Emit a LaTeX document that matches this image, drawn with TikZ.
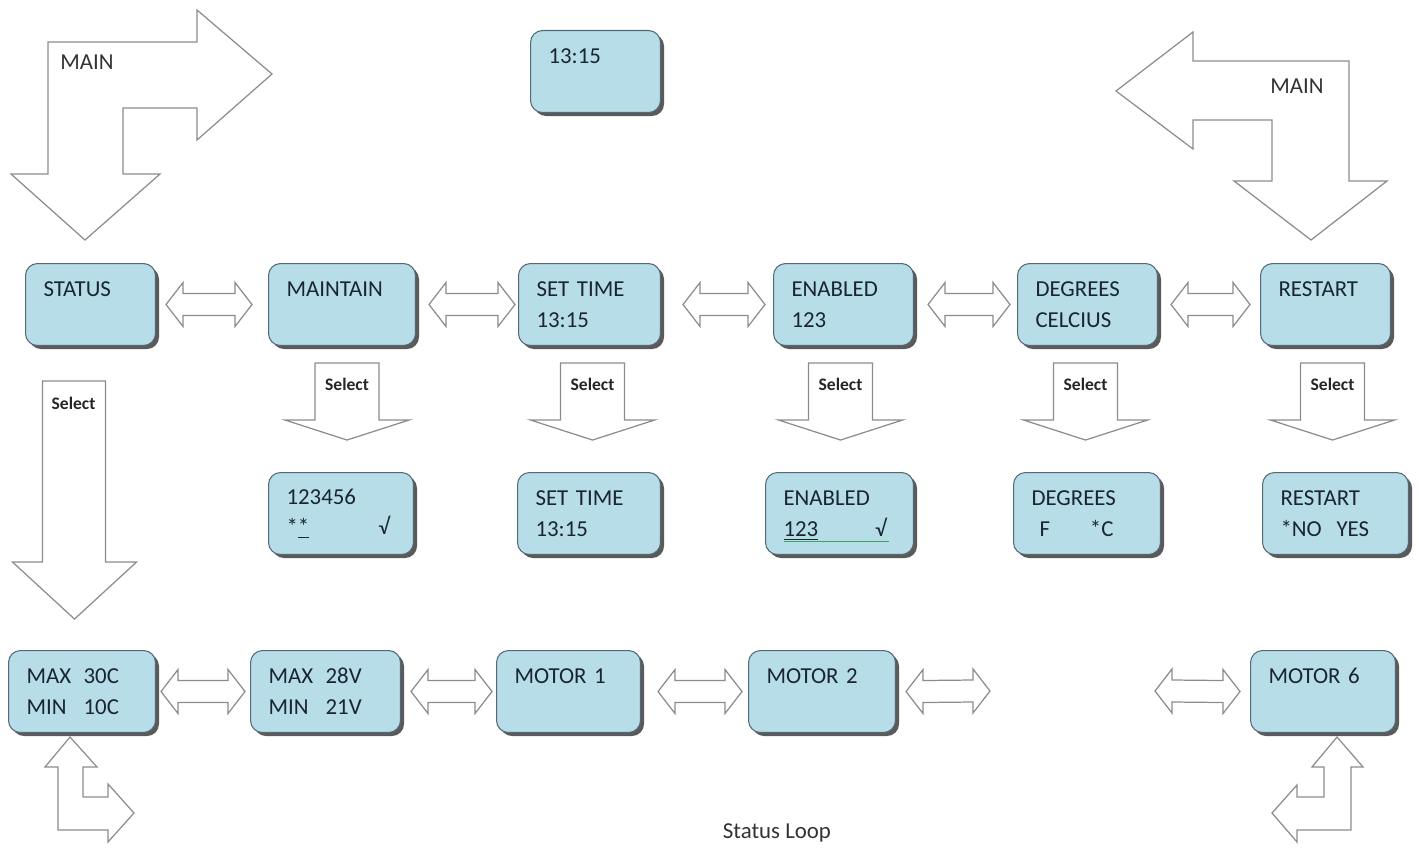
\documentclass[tikz,border=0pt]{standalone}
\usepackage{fontspec}
\setmainfont{Carlito}
\usetikzlibrary{calc,shadows}

\definecolor{lcdfill}{RGB}{183,221,232}
\definecolor{lcdedge}{RGB}{84,104,118}
\definecolor{lcdshade}{RGB}{90,90,90}
\definecolor{lcdtext}{RGB}{25,38,48}
\definecolor{arrowline}{RGB}{140,140,140}
\definecolor{cursorgreen}{RGB}{60,165,95}

\tikzset{
  lcd/.style={rectangle, rounded corners=0.24cm, fill=lcdfill, draw=lcdedge,
    line width=0.6pt, drop shadow={shadow xshift=0.07cm, shadow yshift=-0.07cm,
    fill=lcdshade, opacity=1}, text width=#1, align=left, minimum height=1.64cm,
    inner xsep=0.36cm, anchor=north west, text=lcdtext,
    font=\fontsize{13}{17.6}\selectfont},
  blockarrow/.style={draw=arrowline, fill=white, line width=0.7pt, line join=miter},
  seltext/.style={font=\fontsize{10}{11}\selectfont\bfseries, text=black!85, inner sep=0pt},
  plaintext/.style={font=\fontsize{13}{15}\selectfont, text=black!80, inner sep=0pt}
}

% double block arrow between two points on one row
\newcommand{\biarrow}[4]{%
  \draw[blockarrow] ($(#1)+(#2,0)$) -- ($(#1)+(#2+17,-22)$) -- ($(#1)+(#2+17,-11)$)
    -- ($(#3)+(-#4-17,-11)$) -- ($(#3)+(-#4-17,-22)$) -- ($(#3)+(-#4,0)$)
    -- ($(#3)+(-#4-17,22)$) -- ($(#3)+(-#4-17,11)$) -- ($(#1)+(#2+17,11)$)
    -- ($(#1)+(#2+17,22)$) -- cycle;}

% select arrow below a box
\newcommand{\selarrow}[3]{%
  \coordinate (#1) at ($(#2.south)+(#3,17)$);
  \draw[blockarrow] (#1) ++(-32,0) -- ++(64,0) -- ++(0,57) -- ++(30,0)
    -- ++(-62,20) -- ++(-62,-20) -- ++(30,0) -- cycle;
  \node[seltext] (#1-t) at ($(#1)+(0,21)$) {Select};}

\begin{document}
\begin{tikzpicture}[x=0.02cm, y=-0.02cm]
  \useasboundingbox (0,0) rectangle (1419,848);

  \node[lcd=1.88cm] (clock) at (530,30) {13:15\\~};

  \node[lcd=1.88cm] (status) at (25,263) {STATUS\\~};
  \node[lcd=2.22cm] (maintain) at (268,263) {MAINTAIN\\~};
  \node[lcd=2.12cm] (settime) at (518,263) {SET TIME\\13:15};
  \node[lcd=2.08cm] (enabled) at (773,263) {ENABLED\\123};
  \node[lcd=2.08cm] (degrees) at (1017,263) {DEGREES\\CELCIUS};
  \node[lcd=1.88cm] (restart) at (1260,263) {RESTART\\~};

  \node[lcd=2.18cm] (code) at (268,472) {123456\\{}*\underline{*}\hfill√\hspace*{0.25em}};
  \node[lcd=2.14cm] (settime-e) at (517,472) {SET TIME\\13:15};
  \node[lcd=2.24cm] (enabled-e) at (765,472)
    {ENABLED\\\leavevmode\rlap{\raisebox{-3.2pt}[0pt][0pt]{\textcolor{cursorgreen}{\rule{2.1cm}{0.6pt}}}}\raisebox{0pt}[\height][0pt]{\underline{123}}\hfill√\hspace*{0.4em}};
  \node[lcd=2.22cm] (degrees-e) at (1013,472) {DEGREES\\\hspace*{0.35em}F\hspace*{1.75em}*C};
  \node[lcd=2.20cm] (restart-e) at (1262,472) {RESTART\\{}*NO\hspace*{0.65em}YES};

  \node[lcd=2.22cm] (temp) at (8,650) {\makebox[2.5em][l]{MAX}30C\\\makebox[2.5em][l]{MIN}10C};
  \node[lcd=2.28cm] (volt) at (250,650) {\makebox[2.5em][l]{MAX}28V\\\makebox[2.5em][l]{MIN}21V};
  \node[lcd=2.16cm] (motor1) at (496,650) {MOTOR 1\\~};
  \node[lcd=2.22cm] (motor2) at (748,650) {MOTOR 2\\~};
  \node[lcd=2.18cm] (motor6) at (1250,650) {MOTOR 6\\~};

  \coordinate (gap-l) at (990,691);
  \coordinate (gap-r) at (1155,691);

  \biarrow{status.east}{10}{maintain.west}{16}
  \biarrow{maintain.east}{13}{settime.west}{3}
  \biarrow{settime.east}{22}{enabled.west}{8}
  \biarrow{enabled.east}{14}{degrees.west}{7}
  \biarrow{degrees.east}{13}{restart.west}{10}

  \biarrow{temp.east}{5}{volt.west}{5}
  \biarrow{volt.east}{10}{motor1.west}{4}
  \biarrow{motor1.east}{17}{motor2.west}{6}
  \biarrow{motor2.east}{10}{gap-l}{0}
  \biarrow{gap-r}{0}{motor6.west}{10}

  \selarrow{sel-maintain}{maintain}{5}
  \selarrow{sel-settime}{settime}{3}
  \selarrow{sel-enabled}{enabled}{-3}
  \selarrow{sel-degrees}{degrees}{-2}
  \selarrow{sel-restart}{restart}{7}

  \coordinate (sel-status) at ($(status.south)+(-16,35)$);
  \draw[blockarrow] (sel-status) ++(-32,0) -- ++(63,0) -- ++(0,181) -- ++(31,0)
    -- ++(-62,57) -- ++(-62,-57) -- ++(30,0) -- cycle;
  \node[seltext] (sel-status-t) at ($(sel-status)+(-1,22)$) {Select};

  \draw[blockarrow] (48,42) -- (197,42) -- (197,10) -- (272,74) -- (197,140) -- (197,108)
    -- (123,108) -- (123,174) -- (160,174) -- (85,240) -- (11,174) -- (48,174) -- cycle;
  \node[plaintext] (main-l) at (87,62) {MAIN};

  \draw[blockarrow] (1116,91) -- (1193,32) -- (1193,61) -- (1349,61) -- (1349,181)
    -- (1387,181) -- (1311,240) -- (1234,181) -- (1272,181) -- (1272,120) -- (1193,120)
    -- (1193,149) -- cycle;
  \node[plaintext] (main-r) at (1297,86) {MAIN};

  \draw[blockarrow] (70,737) -- (97,767) -- (83,767) -- (83,797) -- (108,797) -- (108,784)
    -- (134,813) -- (108,842) -- (108,830) -- (58,830) -- (58,767) -- (45,767) -- cycle;
  \draw[blockarrow] (1337,737) -- (1363,767) -- (1351,767) -- (1351,830) -- (1297,830)
    -- (1297,842) -- (1272,813) -- (1297,785) -- (1297,797) -- (1324,797) -- (1324,767)
    -- (1312,767) -- cycle;

  \node[plaintext] (loop) at (777,833) {Status Loop};
\end{tikzpicture}
\end{document}
